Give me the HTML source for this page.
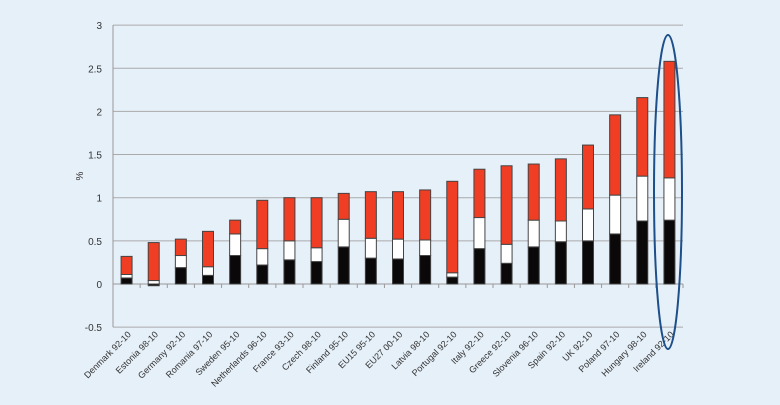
<!DOCTYPE html>
<html><head><style>body{margin:0;background:#e6f0f9}svg{display:block}text{font-family:"Liberation Sans",sans-serif;fill:#333}</style></head>
<body>
<svg width="780" height="405" xmlns="http://www.w3.org/2000/svg">
<rect width="780" height="405" fill="#e6f0f9"/>
<g id="g"></g>
</svg>
<script>
const d=[["Denmark 92-10",.07,.11,.32],["Estonia 98-10",-.02,.04,.48],["Germany 92-10",.19,.33,.52],["Romania 97-10",.10,.20,.61],["Sweden 95-10",.33,.58,.74],["Netherlands 96-10",.22,.41,.97],["France 93-10",.28,.50,1.0],["Czech 98-10",.26,.42,1.0],["Finland 95-10",.43,.75,1.05],["EU15 95-10",.30,.53,1.07],["EU27 00-10",.29,.52,1.07],["Latvia 98-10",.33,.51,1.09],["Portugal 92-10",.08,.13,1.19],["Italy 92-10",.41,.77,1.33],["Greece 92-10",.24,.46,1.37],["Slovenia 96-10",.43,.74,1.39],["Spain 92-10",.49,.73,1.45],["UK 92-10",.50,.87,1.61],["Poland 97-10",.58,1.03,1.96],["Hungary 98-10",.73,1.25,2.16],["Ireland 92-10",.74,1.23,2.58]];
const Y=v=>284-v*86.3,x0=113,x1=683,w=(x1-x0)/21;let s="";
for(let i=0;i<=7;i++){const v=-0.5+i*0.5,y=Y(v);s+=`<line x1="${x0}" x2="${x1}" y1="${y}" y2="${y}" stroke="#aaa" stroke-width="1"/><text x="102" y="${y+4}" font-size="10" text-anchor="end">${v}</text>`}
s+=`<line x1="${x0}" x2="${x0}" y1="${Y(3)}" y2="${Y(-.5)}" stroke="#999"/><line x1="${x0}" x2="${x1}" y1="${Y(0)}" y2="${Y(0)}" stroke="#999"/>`;
for(let i=0;i<=21;i++){const x=x0+i*w;s+=`<line x1="${x}" x2="${x}" y1="284" y2="288" stroke="#999"/>`}
d.forEach((r,i)=>{const c=x0+w*(i+.5),bx=c-5.5,bw=11;const[n,a,b,t]=r;
const rect=(lo,hi,f)=>{const y1=Y(Math.max(lo,hi)),y2=Y(Math.min(lo,hi));s+=`<rect x="${bx}" y="${y1}" width="${bw}" height="${Math.max(y2-y1,1)}" fill="${f}" stroke="#444" stroke-width="1"/>`};
rect(Math.min(a,0),Math.max(a,0),"#0a0808");rect(Math.max(a,0),b,"#fff");rect(b,t,"#ef3e24");
s+=`<text transform="translate(${c+5},335) rotate(-45)" font-size="9" text-anchor="end">${n}</text>`});
s+=`<text transform="translate(83,176) rotate(-90)" font-size="10" text-anchor="middle">%</text>`;
s+=`<ellipse cx="668" cy="192" rx="14" ry="157" fill="none" stroke="#1d4f8a" stroke-width="2"/>`;
document.getElementById("g").innerHTML=s;
</script>
</body></html>
